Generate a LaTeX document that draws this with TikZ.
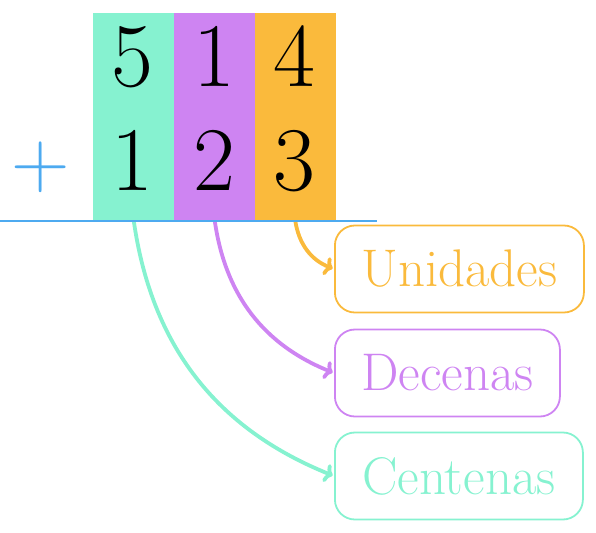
\documentclass[tikz,border=0pt]{standalone}
\usetikzlibrary{arrows.meta}
\definecolor{cteal}{RGB}{134,242,208}
\definecolor{cpurple}{RGB}{206,132,242}
\definecolor{corange}{RGB}{250,186,60}
\definecolor{cblue}{RGB}{77,170,240}
\begin{document}
\begin{tikzpicture}[x=1pt,y=-1pt,
  colbox/.style={fill=#1, draw=none, inner sep=0pt, minimum width=81pt, minimum height=207pt, anchor=north west},
  digit/.style={anchor=base, inner sep=0pt, font=\fontsize{91}{100}\selectfont},
  lbl/.style={draw=#1, text=#1, rounded corners=20pt, line width=1.8pt, anchor=west, font=\fontsize{53}{60}\selectfont, minimum height=87pt, inner xsep=0pt},
  conn/.style={draw=#1, line width=3.8pt, line cap=round, shorten >=1.5pt, -{To[length=8pt, width=19pt]}}
]
\useasboundingbox (0,0) rectangle (596,532);
\node[colbox=cteal] (c1) at (93,13) {};
\node[colbox=cpurple] (c2) at (174,13) {};
\node[colbox=corange] (c3) at (254.5,13) {};
\node[digit] (d11) at (132.5,87) {5};
\node[digit] (d12) at (214,87) {1};
\node[digit] (d13) at (294.5,87) {4};
\node[digit] (d21) at (132.5,190) {1};
\node[digit] (d22) at (214,190) {2};
\node[digit] (d23) at (294.5,190) {3};
\node[anchor=base, inner sep=0pt, text=cblue, font=\fontsize{81}{90}\selectfont] (plus) at (41,187) {+};
\coordinate (l0) at (0,221);
\coordinate (l1) at (377,221);
\node[lbl=corange, minimum width=249pt] (u) at (334,269) {Unidades};
\node[lbl=cpurple, minimum width=225pt] (d) at (334,373) {Decenas};
\node[lbl=cteal, minimum width=248pt] (c) at (334,476) {Centenas};
\draw[conn=corange] (c3.south) to[bend right=30] (u.west);
\draw[conn=cpurple] (c2.south) to[bend right=30] (d.west);
\draw[conn=cteal] (c1.south) to[bend right=30] (c.west);
\draw[cblue, line width=1.8pt] (l0) -- (l1);
\end{tikzpicture}
\end{document}
